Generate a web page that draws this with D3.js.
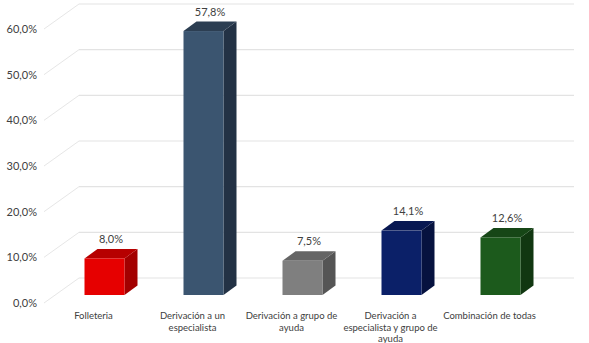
<!DOCTYPE html>
<html><head><meta charset="utf-8">
<script src="https://cdn.jsdelivr.net/npm/d3@7"></script>
<style>html,body{margin:0;padding:0;background:#fff;} svg{display:block;font-family:Lato,"Open Sans",sans-serif;}</style>
</head><body>
<svg id="c" width="589" height="343"></svg>
<script>
const categories = ["Folleteria","Derivación a un|especialista","Derivación a grupo de|ayuda","Derivación a|especialista y grupo de|ayuda","Combinación de todas"];
const values = [8.0, 57.8, 7.5, 14.1, 12.6];
const valueLabels = ["8,0%","57,8%","7,5%","14,1%","12,6%"];
const yTicks = [0,10,20,30,40,50,60];
const yTickLabels = ["0,0%","10,0%","20,0%","30,0%","40,0%","50,0%","60,0%"];
const frontColors = ["#e60000","#3b5570","#7f7f7f","#0b2068","#1c5a1c"];
const sideColors = ["#a30000","#233245","#555555","#06123f","#113711"];
const topColors = ["#b60000","#2c3e52","#656565","#081852","#164616"];

const svg = d3.select("#c");
const x = d3.scaleBand().domain(categories).range([44, 539]);
const y = d3.scaleLinear().domain([0, 60]).range([303, 29]);
const DX = 35, DY = -25;          // full depth of plot
const fx = 11, fy = -8;           // bar front offset
const bx = 13, by = -9.5;         // bar depth
const bw = 40;

// gridlines: back wall + floor diagonal
const g = svg.append("g");
yTicks.forEach(t => {
  const yy = y(t);
  g.append("line").attr("x1", 44).attr("y1", yy).attr("x2", 44 + DX).attr("y2", yy + DY)
    .attr("stroke", "#e6e6e6").attr("stroke-width", 1);
  g.append("line").attr("x1", 44 + DX).attr("y1", yy + DY).attr("x2", 539 + DX).attr("y2", yy + DY)
    .attr("stroke", "#e3e3e3").attr("stroke-width", 1.2);
});

// y axis labels
svg.append("g").selectAll("text").data(yTicks).join("text")
  .attr("x", 37).attr("y", d => y(d) + 4)
  .attr("text-anchor", "end").attr("font-size", 11).attr("fill", "#404040")
  .text((d, i) => yTickLabels[i]);

// bars
const bars = svg.append("g").selectAll("g").data(categories).join("g");
bars.each(function(c, i) {
  const gg = d3.select(this);
  const xc = x(c) + x.bandwidth() / 2;
  const x0 = xc + fx - bw / 2, x1 = x0 + bw;
  const yb = y(0) + fy, yt = y(values[i]) + fy;
  gg.append("polygon")
    .attr("points", [[x1, yb], [x1 + bx, yb + by], [x1 + bx, yt + by], [x1, yt]].join(" "))
    .attr("fill", sideColors[i]);
  gg.append("polygon")
    .attr("points", [[x0, yt], [x1, yt], [x1 + bx, yt + by], [x0 + bx, yt + by]].join(" "))
    .attr("fill", topColors[i]);
  gg.append("rect").attr("x", x0).attr("y", yt).attr("width", bw).attr("height", yb - yt)
    .attr("fill", frontColors[i]);
  gg.append("text").attr("x", xc + fx + bx / 2).attr("y", yt + by - 6)
    .attr("text-anchor", "middle").attr("font-size", 11).attr("fill", "#404040")
    .text(valueLabels[i]);
});

// category labels
svg.append("g").selectAll("text").data(categories).join("text")
  .attr("text-anchor", "middle").attr("font-size", 9.5).attr("fill", "#404040")
  .each(function(c) {
    const t = d3.select(this);
    const xc = x(c) + x.bandwidth() / 2;
    c.split("|").forEach((line, k) => {
      t.append("tspan").attr("x", xc).attr("y", 319 + k * 11.5).text(line);
    });
  });
</script>
</body></html>
